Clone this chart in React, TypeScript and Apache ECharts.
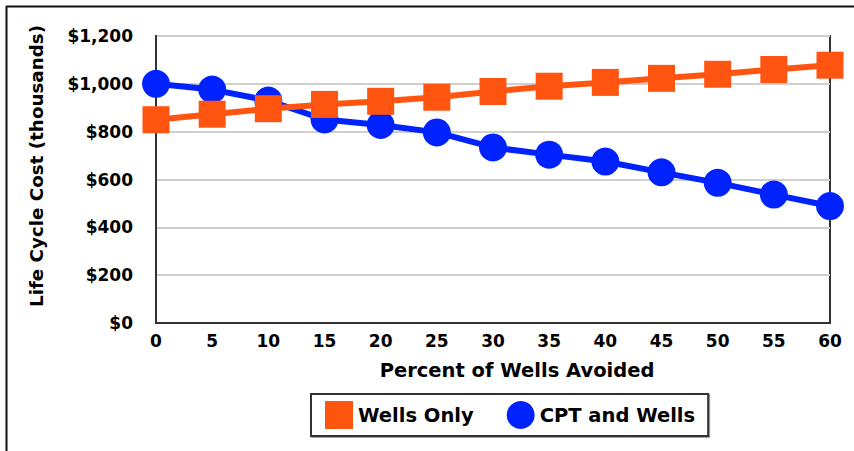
import React, { useEffect, useRef } from "react";
import * as echarts from "echarts";

const percentAvoided = [0, 5, 10, 15, 20, 25, 30, 35, 40, 45, 50, 55, 60];
const wellsOnly = [850, 873, 896, 914, 927, 944, 968, 990, 1006, 1023, 1040, 1060, 1078];
const cptAndWells = [1000, 976, 930, 851, 828, 797, 734, 704, 675, 630, 586, 537, 489];
const seriesNames = ["Wells Only", "CPT and Wells"];
const yTitle = "Life Cycle Cost (thousands)";
const xTitle = "Percent of Wells Avoided";

const FONT = "'DejaVu Sans', Verdana, sans-serif";
const ORANGE = "#FF5511";
const BLUE = "#0022FF";

export default function App() {
  const ref = useRef<HTMLDivElement>(null);
  useEffect(() => {
    document.body.style.margin = "0";
    const chart = echarts.init(ref.current!, null, { renderer: "svg" });
    chart.setOption({
      animation: false,
      backgroundColor: "#fff",
      grid: {
        left: 156,
        right: 24,
        top: 36,
        bottom: 128,
        show: true,
        borderColor: "#333",
        borderWidth: 2,
        backgroundColor: "transparent",
      },
      xAxis: {
        type: "value",
        min: 0,
        max: 60,
        interval: 5,
        axisLine: { show: true, lineStyle: { color: "#333", width: 2 } },
        axisTick: { show: false },
        splitLine: { show: false },
        axisLabel: {
          color: "#000",
          fontFamily: FONT,
          fontWeight: "bold",
          fontSize: 17,
          margin: 9,
        },
      },
      yAxis: {
        type: "value",
        min: 0,
        max: 1200,
        interval: 200,
        axisLine: { show: true, lineStyle: { color: "#333", width: 2 } },
        axisTick: { show: false },
        splitLine: { show: true, lineStyle: { color: "#cfcfcf", width: 2 } },
        axisLabel: {
          color: "#000",
          fontFamily: FONT,
          fontWeight: "bold",
          fontSize: 17,
          margin: 23,
          formatter: (v: number) => "$" + v.toLocaleString("en-US"),
        },
      },
      legend: {
        left: 311,
        top: 394,
        orient: "horizontal",
        padding: [7, 13, 7, 14],
        itemGap: 33,
        itemWidth: 28,
        itemHeight: 28,
        borderColor: "#333",
        borderWidth: 2,
        backgroundColor: "#fff",
        shadowColor: "rgba(0,0,0,0.35)",
        shadowOffsetX: 1,
        shadowOffsetY: 1,
        textStyle: {
          color: "#000",
          fontFamily: FONT,
          fontWeight: "bold",
          fontSize: 19.5,
        },
        data: [
          { name: seriesNames[0], icon: "rect" },
          { name: seriesNames[1], icon: "circle" },
        ],
      },
      graphic: [
        {
          type: "line",
          shape: { x1: 6, y1: 6.5, x2: 854, y2: 6.5 },
          style: { stroke: "#111", lineWidth: 2 },
          z: 100,
        },
        {
          type: "line",
          shape: { x1: 6.5, y1: 6, x2: 6.5, y2: 451 },
          style: { stroke: "#111", lineWidth: 2 },
          z: 100,
        },
        {
          type: "text",
          x: 36,
          y: 166,
          rotation: Math.PI / 2,
          style: {
            text: yTitle,
            fill: "#000",
            font: `bold 18.3px ${FONT}`,
            align: "center",
            verticalAlign: "middle",
          },
        },
        {
          type: "text",
          x: 517,
          y: 370,
          style: {
            text: xTitle,
            fill: "#000",
            font: `bold 19.5px ${FONT}`,
            align: "center",
            verticalAlign: "middle",
          },
        },
      ],
      series: [
        {
          name: seriesNames[1],
          type: "line",
          data: percentAvoided.map((p, i) => [p, cptAndWells[i]]),
          symbol: "circle",
          symbolSize: 28,
          clip: false,
          z: 2,
          itemStyle: { color: BLUE },
          lineStyle: { color: BLUE, width: 6 },
        },
        {
          name: seriesNames[0],
          type: "line",
          data: percentAvoided.map((p, i) => [p, wellsOnly[i]]),
          symbol: "rect",
          symbolSize: 27,
          clip: false,
          z: 3,
          itemStyle: { color: ORANGE },
          lineStyle: { color: ORANGE, width: 6 },
        },
      ],
    });
    return () => chart.dispose();
  }, []);
  return (
    <div
      ref={ref}
      style={{ position: "fixed", left: 0, top: 0, width: 854, height: 451 }}
    />
  );
}
